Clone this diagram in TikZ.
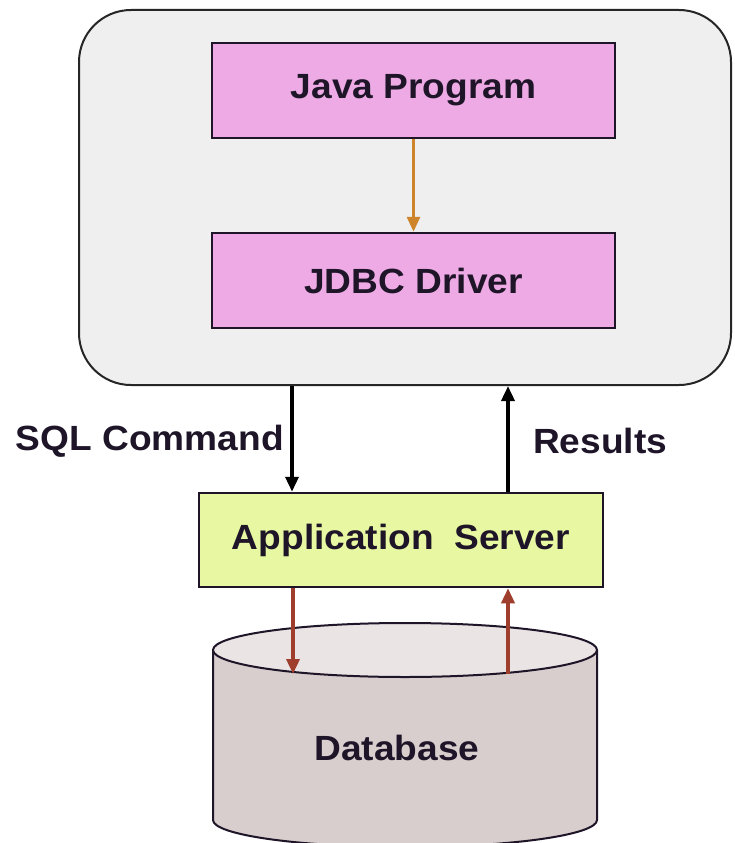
\documentclass[tikz,border=0pt]{standalone}
\usepackage{fontspec}
\usepackage{tikz}
\usetikzlibrary{arrows.meta}
\newfontfamily\labfont[FakeStretch=1.06]{Liberation Sans}
\definecolor{boxgray}{RGB}{239,239,239}
\definecolor{boxpink}{RGB}{238,170,228}
\definecolor{boxlime}{RGB}{232,248,162}
\definecolor{arrorange}{RGB}{206,132,42}
\definecolor{arrbrown}{RGB}{160,62,46}
\definecolor{dbside}{RGB}{216,206,206}
\definecolor{dbcap}{RGB}{234,228,228}
\definecolor{inkdark}{RGB}{30,22,40}
\tikzset{
	lab/.style={font=\labfont\bfseries\fontsize{35}{40}\selectfont, text=inkdark},
	block/.style={lab, draw=inkdark, line width=2.5pt, minimum width=403pt, minimum height=95pt, inner sep=0pt},
	tip/.style={-{Triangle[length=15pt,width=13pt]}}
}
\begin{document}
\begin{tikzpicture}[x=1pt, y=-1pt]
							\useasboundingbox[fill=white] (0,0) rectangle (734,843);
							
							\node[draw=black!85, line width=2pt, fill=boxgray, rounded corners=52pt, minimum width=652pt, minimum height=375pt] (outer) at (405,197.5) {};
							\node[block, fill=boxpink] (java) at (413.5,90.5) {Java Program};
							\node[block, fill=boxpink] (jdbc) at (413.5,280.5) {JDBC Driver};
							\node[block, fill=boxlime, minimum width=404pt, minimum height=94pt] (app) at (401,540) {Application\ \ Server};
							
							\draw[tip, arrorange, line width=3pt] (java) -- (jdbc);
							
							\coordinate (sqlx) at (292,0);
							\coordinate (resx) at (508,0);
							\draw[tip, black, line width=3.5pt] (outer.south -| sqlx) -- (app.north -| sqlx);
							\draw[tip, black, line width=3.5pt] (app.north -| resx) -- (outer.south -| resx);
							\node[lab, anchor=east, inner sep=0pt] (sql) at (284,441) {SQL Command};
							\node[lab, anchor=west, inner sep=0pt] (res) at (533,441) {Results};
							
							% database
							\fill[dbside] (213,650) -- (213,820) arc[start angle=180, end angle=0, x radius=192, y radius=27] -- (597,650) -- cycle;
							\draw[line width=2pt, inkdark] (213,650) -- (213,820) arc[start angle=180, end angle=0, x radius=192, y radius=27] -- (597,650);
							\draw[line width=2pt, inkdark, fill=dbcap] (405,650) ellipse[x radius=192, y radius=27];
							\node[lab] (db) at (397,748) {Database};
							\coordinate (dbl) at (293,674);
							\coordinate (dbr) at (508,674);
							\draw[tip, arrbrown, line width=3.5pt] (app.south -| dbl) -- (dbl);
							\draw[tip, arrbrown, line width=3.5pt] (dbr) -- (app.south -| dbr);
						\end{tikzpicture}
\end{document}
